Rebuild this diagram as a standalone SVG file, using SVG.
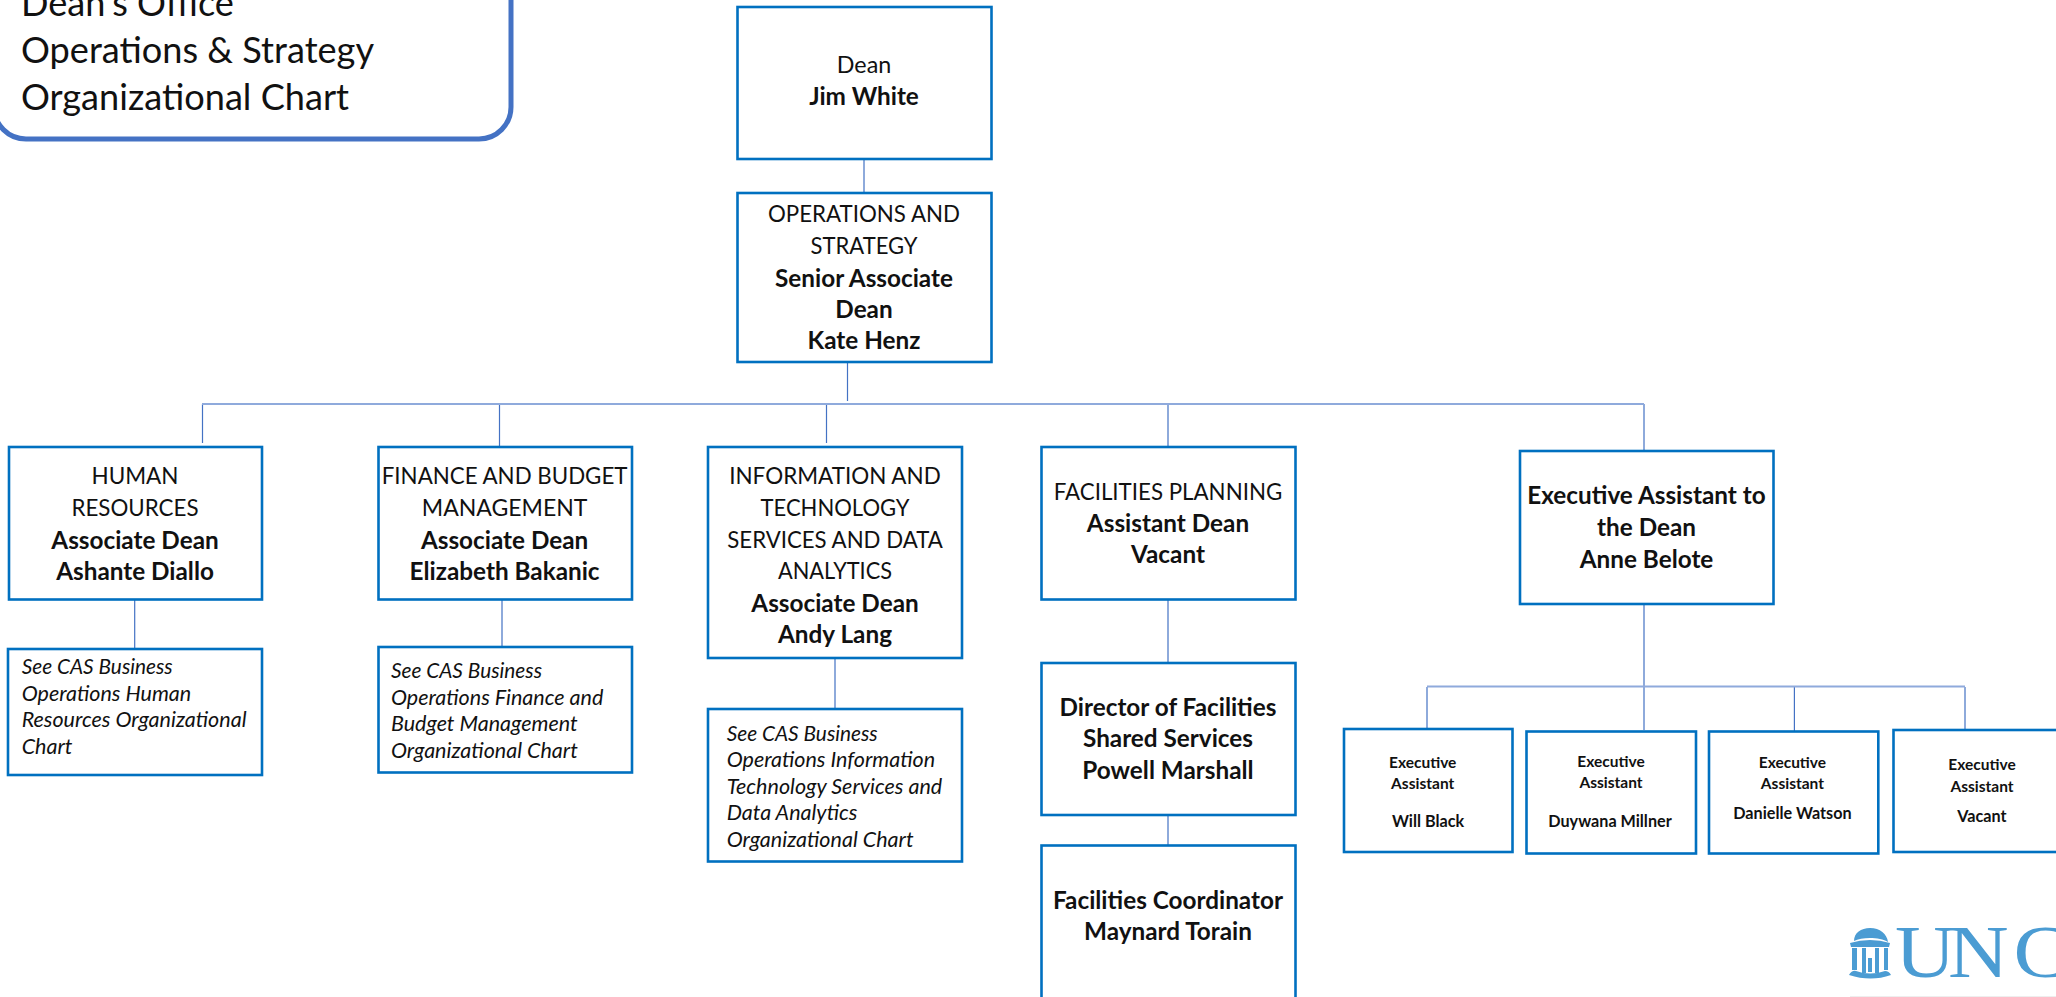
<svg xmlns="http://www.w3.org/2000/svg" width="2056" height="997" viewBox="0 0 2056 997">
<style>
text{font-family:"Lato","Carlito","Liberation Sans",sans-serif;fill:#111}
.box{fill:#fff;stroke:#0070C0;stroke-width:2.6}
.t{font-size:24px;text-anchor:middle}
.b{font-size:24.3px;font-weight:700}
.i{font-size:21.5px;font-style:italic}
.s{font-size:15.5px;font-weight:700;text-anchor:middle}
.n{font-size:16.2px}
.h{font-size:36.15px}
.c1{stroke:#4472C4;stroke-width:1.2;fill:none}
.c2{stroke:#8FAADC;stroke-width:2;fill:none}
.logo{fill:#4B9CD3}
</style>
<rect width="2056" height="997" fill="#fff"/>
<g id="connectors">
<path class="c1" d="M864 159V192M847.5 362V401M202.5 404V443M499.5 404V447M826.5 404V443M1168 404V447M1644 404V450M134.7 600V649M502 600V647M835 658V709M1168 600V663M1168 815V845M1644 604V730M1427 687V728M1794.4 687V731M1965 687V730"/>
<path class="c2" d="M202 404H1644M1427 686.6H1965"/>
</g>
<g id="title">
<rect x="-6" y="-40" width="517" height="179" rx="32" fill="#fff" stroke="#4472C4" stroke-width="5"/>
<text class="h" x="21" y="15.7">Dean's Office</text>
<text class="h" x="21" y="62.5">Operations &amp; Strategy</text>
<text class="h" x="21" y="110">Organizational Chart</text>
</g>
<g id="dean">
<rect class="box" x="737.5" y="7" width="254" height="152"/>
<text class="t" x="864" y="72.5" textLength="54.5" lengthAdjust="spacingAndGlyphs">Dean</text>
<text class="t b" x="864" y="105">Jim White</text>
</g>
<g id="operations">
<rect class="box" x="737.5" y="193" width="254" height="169"/>
<text class="t" x="864" y="222" textLength="192" lengthAdjust="spacingAndGlyphs">OPERATIONS AND</text>
<text class="t" x="864" y="254" textLength="107" lengthAdjust="spacingAndGlyphs">STRATEGY</text>
<text class="t b" x="864" y="286.7">Senior Associate</text>
<text class="t b" x="864" y="317.7">Dean</text>
<text class="t b" x="864" y="349">Kate Henz</text>
</g>
<g id="hr">
<rect class="box" x="9" y="447" width="253" height="152.5"/>
<text class="t" x="135" y="483.5" textLength="87" lengthAdjust="spacingAndGlyphs">HUMAN</text>
<text class="t" x="135" y="515.5" textLength="127" lengthAdjust="spacingAndGlyphs">RESOURCES</text>
<text class="t b" x="135" y="548.5">Associate Dean</text>
<text class="t b" x="135" y="579.5">Ashante Diallo</text>
</g>
<g id="finance">
<rect class="box" x="378.5" y="447" width="253.5" height="152.5"/>
<text class="t" x="504.6" y="483.5" textLength="245.7" lengthAdjust="spacingAndGlyphs">FINANCE AND BUDGET</text>
<text class="t" x="504.6" y="515.5" textLength="165.6" lengthAdjust="spacingAndGlyphs">MANAGEMENT</text>
<text class="t b" x="504.6" y="548.5">Associate Dean</text>
<text class="t b" x="504.6" y="579.5">Elizabeth Bakanic</text>
</g>
<g id="information">
<rect class="box" x="708" y="447" width="254" height="211"/>
<text class="t" x="835" y="483.5" textLength="211.6" lengthAdjust="spacingAndGlyphs">INFORMATION AND</text>
<text class="t" x="835" y="515.5" textLength="149" lengthAdjust="spacingAndGlyphs">TECHNOLOGY</text>
<text class="t" x="835" y="548" textLength="215.5" lengthAdjust="spacingAndGlyphs">SERVICES AND DATA</text>
<text class="t" x="835" y="579" textLength="114" lengthAdjust="spacingAndGlyphs">ANALYTICS</text>
<text class="t b" x="835" y="611.5">Associate Dean</text>
<text class="t b" x="835" y="643">Andy Lang</text>
</g>
<g id="hr-note">
<rect class="box" x="8" y="649" width="254" height="126"/>
<text class="i" x="21.7" y="674" textLength="151" lengthAdjust="spacingAndGlyphs">See CAS Business</text>
<text class="i" x="21.7" y="701">Operations Human</text>
<text class="i" x="21.7" y="727">Resources Organizational</text>
<text class="i" x="21.7" y="754.4">Chart</text>
</g>
<g id="finance-note">
<rect class="box" x="378.5" y="647" width="253.5" height="125.5"/>
<text class="i" x="391" y="678" textLength="151" lengthAdjust="spacingAndGlyphs">See CAS Business</text>
<text class="i" x="391" y="705">Operations Finance and</text>
<text class="i" x="391" y="731">Budget Management</text>
<text class="i" x="391" y="758">Organizational Chart</text>
</g>
<g id="information-note">
<rect class="box" x="708" y="709" width="254" height="152.5"/>
<text class="i" x="726.7" y="741" textLength="151" lengthAdjust="spacingAndGlyphs">See CAS Business</text>
<text class="i" x="726.7" y="767">Operations Information</text>
<text class="i" x="726.7" y="794">Technology Services and</text>
<text class="i" x="726.7" y="820">Data Analytics</text>
<text class="i" x="726.7" y="846.6">Organizational Chart</text>
</g>
<g id="facilities">
<rect class="box" x="1041.5" y="447" width="254" height="152.5"/>
<text class="t" x="1168" y="500" textLength="228.4" lengthAdjust="spacingAndGlyphs">FACILITIES PLANNING</text>
<text class="t b" x="1168" y="532">Assistant Dean</text>
<text class="t b" x="1168" y="563">Vacant</text>
</g>
<g id="director">
<rect class="box" x="1041.5" y="663" width="254" height="152"/>
<text class="t b" x="1168" y="716">Director of Facilities</text>
<text class="t b" x="1168" y="747">Shared Services</text>
<text class="t b" x="1168" y="779">Powell Marshall</text>
</g>
<g id="coordinator">
<rect class="box" x="1041.5" y="845.5" width="254" height="170"/>
<text class="t b" x="1168" y="909">Facilities Coordinator</text>
<text class="t b" x="1168" y="940">Maynard Torain</text>
</g>
<g id="executive">
<rect class="box" x="1520" y="451" width="253.5" height="153"/>
<text class="t b" x="1646.5" y="504">Executive Assistant to</text>
<text class="t b" x="1646.5" y="536">the Dean</text>
<text class="t b" x="1646.5" y="568">Anne Belote</text>
</g>
<g id="ea-1">
<rect class="box" x="1344" y="729" width="168.5" height="123"/>
<text class="s" x="1422.7" y="768">Executive</text>
<text class="s" x="1422.7" y="789">Assistant</text>
<text class="s n" x="1428" y="827">Will Black</text>
</g>
<g id="ea-2">
<rect class="box" x="1526.5" y="731.5" width="169.5" height="122"/>
<text class="s" x="1611" y="766.6">Executive</text>
<text class="s" x="1611" y="787.5">Assistant</text>
<text class="s n" x="1610" y="827">Duywana Millner</text>
</g>
<g id="ea-3">
<rect class="box" x="1709" y="731.5" width="169.3" height="122"/>
<text class="s" x="1792.4" y="768">Executive</text>
<text class="s" x="1792.4" y="789">Assistant</text>
<text class="s n" x="1792.4" y="819">Danielle Watson</text>
</g>
<g id="ea-4">
<rect class="box" x="1893.5" y="730" width="180" height="122"/>
<text class="s" x="1982" y="770.4">Executive</text>
<text class="s" x="1982" y="792">Assistant</text>
<text class="s n" x="1982" y="822">Vacant</text>
</g>
<g id="logo">
<path class="logo" d="M1854 941C1854 933 1861 928 1870 928C1880 928 1887 934 1888 942C1880 937 1862 937 1854 941Z"/>
<path class="logo" d="M1850 943Q1870 937 1890 943L1889 947H1851Z"/>
<rect class="logo" x="1852" y="948" width="5" height="22"/>
<rect class="logo" x="1862" y="948" width="4" height="25"/>
<rect class="logo" x="1875" y="948" width="4" height="25"/>
<rect class="logo" x="1884" y="948" width="4" height="22"/>
<rect class="logo" x="1868" y="958" width="4" height="14"/>
<path class="logo" d="M1849 975Q1852 970 1856 971Q1870 976 1885 971Q1889 971 1891 975Q1871 982 1849 975Z"/>
<text transform="translate(1895 977) scale(1.15 1)" x="0 46 103" y="0" font-size="73" style="font-family:'Liberation Serif',serif;fill:#4B9CD3">UNC</text>
<path d="M1850 996.5H2056" stroke="#eee" stroke-width="1"/>
</g>
</svg>
